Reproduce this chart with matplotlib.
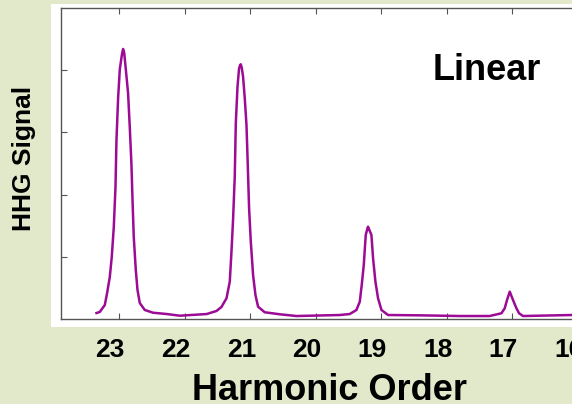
import matplotlib.pyplot as plt
from matplotlib.patches import Rectangle
from matplotlib.transforms import ScaledTranslation

plt.rcParams["font.family"] = ["Liberation Sans", "DejaVu Sans"]

# ── Data (harmonic order, signal in arb. units) ──
order = [23.348, 23.298, 23.221, 23.186, 23.145, 23.115, 23.084, 23.058, 23.043,
         23.018, 22.992, 22.960, 22.942, 22.925, 22.901, 22.866, 22.840, 22.814,
         22.798, 22.779, 22.748, 22.722, 22.687, 22.611, 22.484, 22.275, 22.076,
         21.664, 21.516, 21.440, 21.363, 21.313, 21.287, 21.263, 21.237, 21.221,
         21.195, 21.171, 21.155, 21.145, 21.130, 21.110, 21.084, 21.058, 21.043,
         21.018, 20.992, 20.957, 20.921, 20.881, 20.779, 20.550, 20.295, 19.634,
         19.481, 19.379, 19.328, 19.298, 19.267, 19.237, 19.210, 19.202, 19.185,
         19.150, 19.125, 19.089, 19.049, 18.997, 18.896, 18.412, 17.802, 17.344,
         17.165, 17.115, 17.080, 17.038, 16.988, 16.936, 16.896, 16.835, 16.092,
         15.700]
signal = [0.096, 0.113, 0.225, 0.418, 0.675, 0.997, 1.479, 2.122, 2.878,
          3.553, 4.014, 4.250, 4.341, 4.280, 4.019, 3.633, 3.087, 2.476,
          1.913, 1.318, 0.788, 0.466, 0.257, 0.145, 0.101, 0.080, 0.053,
          0.080, 0.129, 0.193, 0.333, 0.600, 1.082, 1.592, 2.288, 3.146,
          3.735, 4.031, 4.080, 4.095, 4.040, 3.896, 3.548, 3.119, 2.637,
          1.780, 1.243, 0.707, 0.386, 0.198, 0.108, 0.076, 0.048, 0.064,
          0.080, 0.145, 0.278, 0.547, 0.868, 1.350, 1.460, 1.484, 1.440,
          1.350, 0.976, 0.600, 0.333, 0.145, 0.064, 0.059, 0.048, 0.048,
          0.092, 0.172, 0.305, 0.439, 0.305, 0.172, 0.092, 0.048, 0.064,
          0.064]

xticks = [23, 22, 21, 20, 19, 18, 17, 16]
yticks = [1, 2, 3, 4]

W, H = 572, 404


def main():
    fig = plt.figure(figsize=(W / 100, H / 100), dpi=100, facecolor="#e2e9cb")

    # white panel behind the plot
    fig.patches.append(Rectangle((51 / W, 1 - 327 / H), 1.0, (327 - 4) / H,
                                 transform=fig.transFigure, facecolor="white",
                                 edgecolor="none", zorder=-5))

    ax = fig.add_axes([61 / W, 1 - 319 / H, (600 - 61) / W, (319 - 8) / H])
    ax.set_zorder(2)
    ax.set_facecolor("white")
    ax.plot(order, signal, color="#9c0a96", lw=1.8)

    ax.set_xlim(23.89, 15.66)
    ax.set_ylim(0, 5)
    ax.set_xticks(xticks)
    ax.set_yticks(yticks)

    for s in ["left", "top", "bottom"]:
        ax.spines[s].set_color("#555555")
        ax.spines[s].set_linewidth(1.0)
    ax.spines["right"].set_visible(False)

    ax.tick_params(axis="x", direction="in", top=True, bottom=True, length=4,
                   color="#555555", pad=14, labelsize=19)
    ax.tick_params(axis="y", direction="in", left=True, length=4,
                   color="#555555", labelleft=False)
    off = ScaledTranslation(-9 / 100, 0, fig.dpi_scale_trans)
    for lab in ax.get_xticklabels():
        lab.set_fontweight("bold")
        lab.set_transform(lab.get_transform() + off)

    ax.text(433 / W, 1 - 80 / H, "Linear", transform=fig.transFigure,
            fontsize=26, fontweight="bold", ha="left", va="baseline", zorder=5)
    fig.text(329 / W, 4 / H, "Harmonic Order", fontsize=26,
             fontweight="bold", ha="center", va="baseline")
    fig.text(24 / W, 1 - 158 / H, "HHG Signal", fontsize=19, fontweight="bold",
             rotation=90, ha="center", va="center")

    fig.savefig("out.png", dpi=100, facecolor=fig.get_facecolor())
    plt.close(fig)


if __name__ == "__main__":
    main()
